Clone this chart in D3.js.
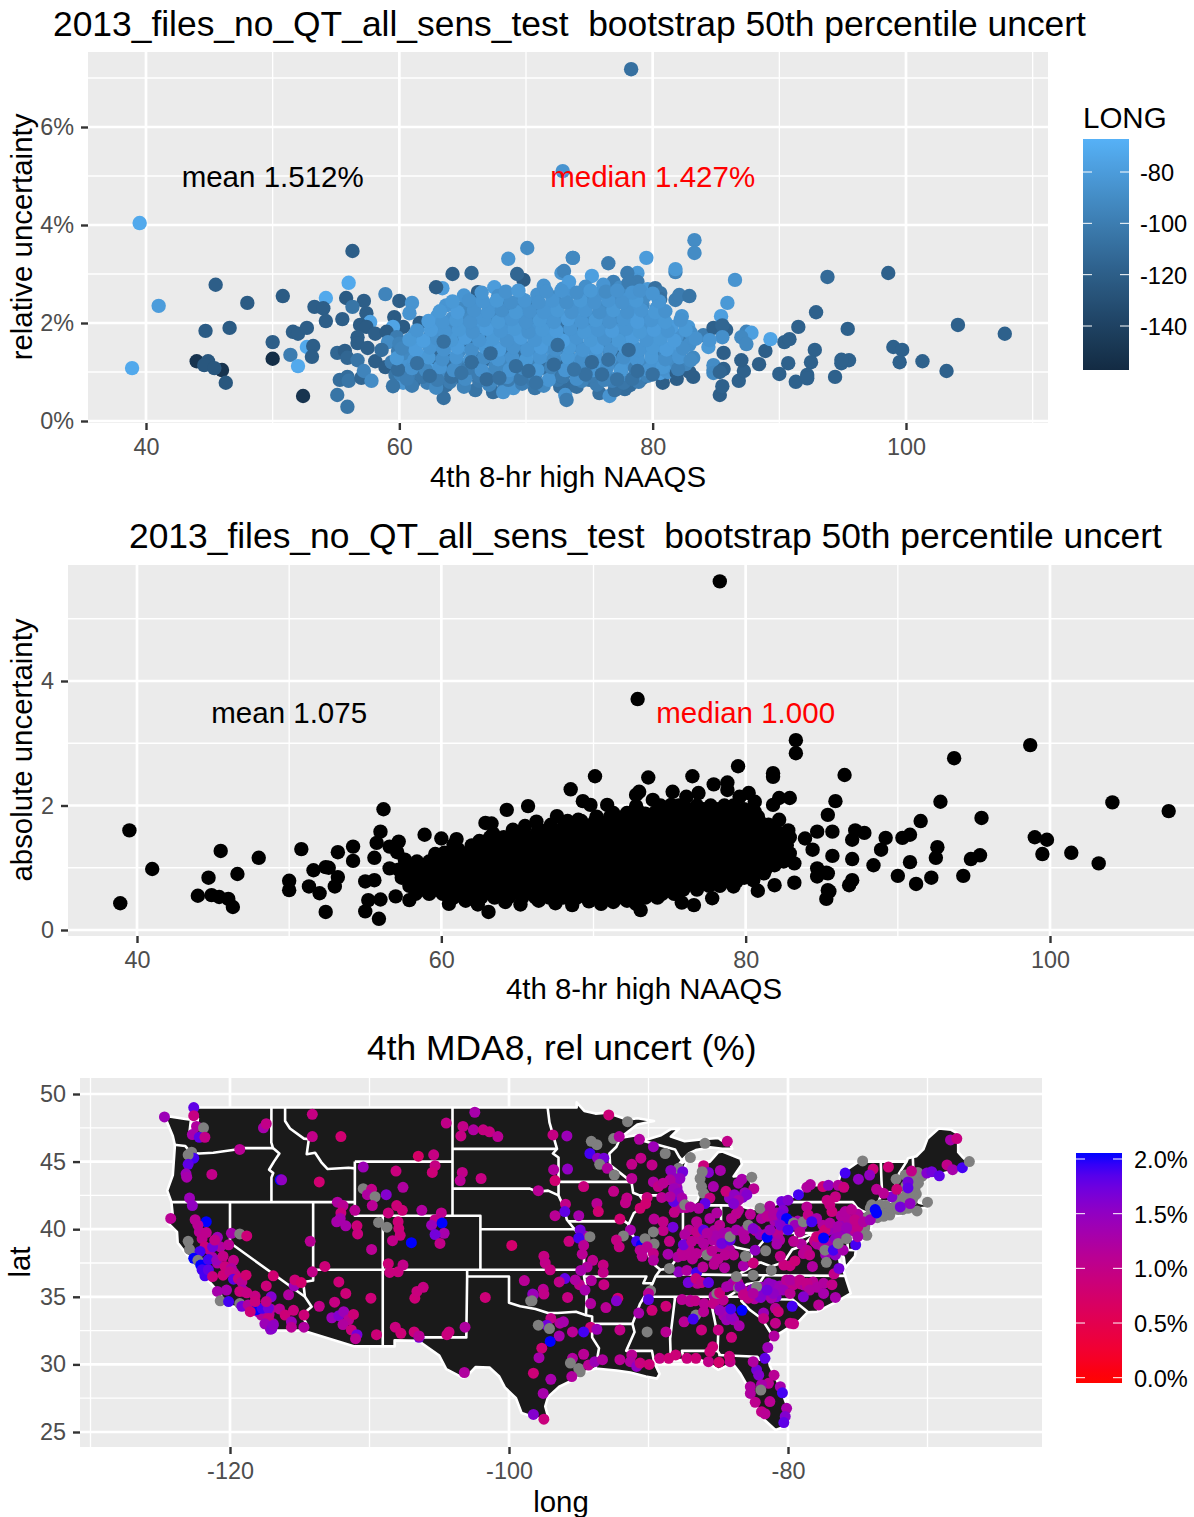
<!DOCTYPE html>
<html><head><meta charset="utf-8">
<script src="https://cdn.jsdelivr.net/npm/d3@7/dist/d3.min.js"></script>
<style>html,body{margin:0;padding:0;background:#fff}svg{display:block}text{font-family:"Liberation Sans",Arial,sans-serif;white-space:pre}</style>
</head><body><svg id="c" width="1194" height="1517"></svg>
<script>
const TITLE_A="2013_files_no_QT_all_sens_test  bootstrap 50th percentile uncert";
const TITLE_C="4th MDA8, rel uncert (%)";
const XLABEL="4th 8-hr high NAAQS";
// relative uncertainty: [NAAQS, rel %, longitude]
const relDark=[[38.9,1.08,-72],[39.5,4.04,-72],[41,2.35,-80],[45.5,2.78,-120],[44.7,1.84,-122],[46.6,1.9,-122],[48,2.41,-122],[50.8,2.55,-122],[50,1.61,-120],[50,1.27,-155],[51.4,1.35,-100],[52,1.12,-72],[52.4,.51,-150],[44,1.22,-150],[46,1.04,-150],[44.9,1.22,-125],[44.6,1.14,-125],[45.4,1.08,-125],[46.3,.78,-125],[54.2,2.51,-72],[53.3,2.33,-120],[54,2.3,-120],[54.2,2.04,-120],[51.6,1.82,-120],[52,1.78,-120],[52.7,1.9,-120],[52.7,1.51,-72],[53.2,1.53,-120],[53.1,1.31,-120],[55.8,2.51,-122],[56,2.82,-72],[56.3,3.47,-120],[57.2,2.45,-120],[55.5,2.08,-120],[56.3,2.33,-105],[57.4,2.2,-120],[57.7,2.02,-75],[56.9,1.96,-122],[57.4,1.92,-122],[56.7,1.71,-120],[56.7,1.59,-120],[58.1,1.78,-120],[55.1,1.39,-115],[55.7,1.43,-120],[55.9,1.29,-115],[57.5,1.49,-120],[56.7,1.24,-105],[58.1,1.22,-120],[55.3,.84,-110],[55.9,.9,-110],[56,.82,-105],[57,.88,-115],[57.2,1.02,-95],[57.8,.82,-90],[55.1,.53,-105],[55.9,.29,-105],[58.9,2.59,-95],[60,2.45,-120],[61,2.41,-85],[60.8,2.2,-85],[59.6,2.12,-122],[60.3,1.92,-122],[59.5,1.92,-75],[59,1.82,-122],[59.8,1.71,-100],[59.1,1.61,-90],[58.6,1.45,-110],[59.9,1.43,-100],[60.4,1.24,-120],[58.9,1.1,-120],[59.7,.94,-105],[60.3,.78,-85],[59.5,.71,-105],[61.1,.8,-115],[61.6,2,-122],[63.4,2.71,-80],[62.9,2.73,-120],[64.2,3,-120],[65.7,3.02,-115],[68.6,3.31,-85],[70.1,3.53,-90],[69.8,2.88,-122],[69.3,3,-115],[73.7,3.33,-90],[72.8,3.02,-85],[73,3.06,-95],[66.2,2.63,-120],[67.5,2.73,-80],[78.3,7.18,-108],[72.9,5.1,-85]];
const relEdge=[[63.5,.47,-108],[63.7,.73,-108],[64.5,.9,-110],[66,.63,-105],[67.4,.59,-110],[68.3,.7,-100],[68.2,.59,-85],[69,.67,-85],[70.7,.67,-105],[72.7,.7,-110],[73.7,.73,-110],[73.1,.53,-85],[73.2,.43,-100],[75.8,.57,-108],[76.6,.51,-85],[77.8,.65,-110],[77,.63,-108],[74,.7,-108],[75,.84,-105],[78.2,.73,-110],[79.2,.88,-115],[80.8,.78,-120],[81.9,.86,-120],[83.2,.9,-120],[85.3,.53,-120],[85.5,.71,-118],[86.8,.82,-118],[87.2,1.02,-118],[84.8,1.04,-95],[85.6,1.39,-120],[87,1.24,-120],[88.4,1.16,-120],[88.9,1.43,-120],[89.3,1.67,-75],[90.4,1.61,-118],[90.8,1.67,-118],[91.5,1.92,-118],[92.9,2.22,-118],[93.8,2.94,-112],[98.6,3.02,-118],[95.4,1.88,-118],[104.1,1.96,-118],[107.8,1.78,-118],[99,1.51,-118],[99.7,1.45,-118],[99.5,1.2,-118],[101.3,1.22,-118],[103.2,1.02,-118],[92.8,1.45,-118],[92.5,1.2,-118],[90.7,1.18,-118],[90,.96,-118],[91.3,.8,-118],[92.2,.94,-118],[92.2,.87,-118],[94.4,.9,-118],[94.9,1.18,-118],[95.5,1.24,-118],[94.9,1.25,-118],[83.3,3.69,-90],[83.3,3.43,-90],[86.5,2.88,-85],[85.9,2.41,-82],[85.4,2.14,-78],[79.5,3.33,-80],[76.5,3.22,-100],[73.7,3.33,-92],[81.8,3.04,-95],[81.8,3.1,-82],[78.8,3.02,-82],[78,3.02,-100],[75.2,2.96,-78],[76.9,2.84,-98],[78.8,2.84,-100],[79.6,2.69,-82],[80.2,2.71,-108],[80.6,2.61,-105],[80.6,2.49,-108],[81.8,2.47,-100],[82.1,2.57,-100],[82.9,2.55,-105],[82.3,2.14,-85],[82.8,1.92,-82],[84,1.75,-100],[84.8,1.9,-118],[85.8,1.86,-118],[85.5,1.95,-115],[87.4,1.82,-95],[87.8,1.8,-78],[87,1.71,-92],[87.4,1.57,-92],[85.5,1.71,-88],[84.4,1.51,-82],[84.5,1.65,-84],[82.5,1.71,-100],[83.2,1.29,-92],[82.1,1.24,-108],[81.2,1.18,-85],[80.6,.98,-80],[81.2,1,-85],[84.8,1.14,-90],[84.8,.98,-92],[85.6,1.06,-118],[82.1,1.39,-122],[80.6,1.31,-120],[82.9,1,-120],[81.9,.98,-120],[85.3,1,-115]];
const relBlob=[
[61,.72,-100],[62.2,.78,-98],[62.9,.68,-92],[64,.8,-100],[65.1,.7,-96],[66.3,.82,-102],[67.1,.74,-94],[68.6,.84,-100],[69.7,.76,-98],[70.6,.82,-103],[71.4,.72,-92],[72.5,.84,-102],[74.4,.82,-96],[75.6,.74,-100],[76.8,.82,-98],[77.7,.78,-104],[78.9,.8,-100],
[60.1,.96,-96],[61.3,1,-100],[62.2,.94,-84],[63.3,1.02,-90],[64.4,1.08,-92],[65.5,.98,-98],[66.6,1,-102],[67.5,.94,-88],[68.8,1.02,-96],[69.8,.96,-84],[70.9,1.04,-100],[72,.96,-90],[73.1,1,-104],[74.2,.96,-86],[75.3,1.06,-98],[76.3,.98,-92],[77.5,1.02,-100],[78.6,.94,-84],[79.8,1.04,-92],[80.8,1.06,-86],
[59.4,1.2,-100],[60.7,1.16,-84],[61.8,1.22,-90],[62.9,1.14,-78],[64,1.2,-88],[65,1.14,-94],[66.2,1.18,-104],[67.3,1.24,-84],[68.3,1.16,-92],[69.4,1.22,-82],[70.4,1.14,-96],[71.5,1.2,-86],[72.6,1.16,-92],[73.7,1.24,-84],[74.8,1.18,-100],[75.9,1.14,-80],[77,1.22,-94],[78.1,1.18,-84],[79.2,1.14,-92],[80.3,1.2,-84],[81.4,1.26,-90],[82.6,1.16,-94],
[60.3,1.38,-92],[61.5,1.34,-78],[62.5,1.4,-86],[63.6,1.36,-80],[64.7,1.42,-90],[65.8,1.34,-100],[66.9,1.4,-84],[68,1.36,-90],[69,1.42,-104],[70,1.34,-80],[71.1,1.4,-88],[72.2,1.36,-84],[73.3,1.42,-94],[74.4,1.34,-82],[75.5,1.4,-86],[76.6,1.36,-90],[77.7,1.42,-80],[78.8,1.36,-88],[79.9,1.4,-84],[81,1.34,-92],[82,1.42,-84],
[60,1.58,-96],[61,1.54,-84],[62.2,1.6,-80],[63.2,1.52,-88],[64.3,1.58,-84],[65.4,1.54,-78],[66.4,1.6,-86],[67.5,1.52,-92],[68.6,1.6,-82],[69.7,1.54,-88],[70.8,1.58,-80],[71.9,1.52,-86],[73,1.6,-84],[74.1,1.54,-88],[75.2,1.6,-82],[76.3,1.54,-90],[77.4,1.6,-84],[78.5,1.52,-80],[79.6,1.58,-88],[80.7,1.54,-84],[81.8,1.6,-80],[82.9,1.56,-88],
[61.2,1.76,-86],[62.4,1.72,-92],[63.4,1.78,-84],[64.5,1.74,-80],[65.6,1.8,-90],[66.7,1.72,-84],[67.7,1.78,-88],[68.8,1.74,-80],[69.9,1.8,-86],[71,1.72,-84],[72.1,1.78,-78],[73.2,1.74,-86],[74.3,1.8,-82],[75.4,1.72,-90],[76.5,1.78,-84],[77.6,1.74,-86],[78.7,1.8,-80],[79.8,1.72,-88],[80.9,1.78,-82],[81.9,1.74,-86],[83,1.8,-88],
[62.8,1.94,-84],[63.9,1.9,-90],[65,1.96,-86],[66.1,1.9,-82],[67.2,1.96,-88],[68.3,1.92,-84],[69.4,1.98,-86],[70.5,1.9,-84],[71.6,1.96,-88],[72.7,1.92,-82],[73.8,1.98,-86],[74.9,1.9,-84],[76,1.96,-90],[77.1,1.92,-84],[78.2,1.98,-82],[79.3,1.9,-86],[80.4,1.96,-84],[81.5,1.92,-80],
[63,2.14,-82],[64.2,2.1,-86],[65.3,2.16,-90],[66.4,2.12,-84],[67.5,2.18,-92],[68.6,2.1,-86],[69.7,2.16,-84],[70.8,2.12,-90],[71.9,2.18,-84],[73,2.1,-86],[74.1,2.16,-82],[75.2,2.1,-92],[76.3,2.16,-86],[77.4,2.12,-90],[78.5,2.18,-80],[79.6,2.12,-86],[80.7,2.16,-82],
[63.7,2.36,-84],[64.9,2.3,-92],[66,2.38,-88],[67.1,2.3,-84],[68.2,2.36,-90],[69.3,2.32,-86],[70.4,2.38,-92],[71.5,2.3,-84],[72.6,2.38,-88],[73.7,2.32,-86],[74.8,2.36,-82],[75.9,2.3,-90],[77,2.38,-88],[78.1,2.32,-84],[79.2,2.36,-92],[80.3,2.3,-84],
[65.1,2.56,-84],[67.8,2.55,-88],[69.6,2.5,-90],[70.9,2.58,-86],[72.2,2.52,-92],[73.3,2.6,-84],[74.5,2.52,-90],[75.6,2.58,-86],[76.8,2.5,-92],[77.9,2.58,-84],[79.3,2.52,-90],
[71.4,2.76,-86],[72.9,2.7,-84],[73.4,2.84,-80],[74.7,2.74,-88],[76.1,2.78,-84],[77.4,2.72,-90],[78.1,2.82,-100]];
const relDarkTop=[[65,1.65,-108],[65.8,1.55,-110],[66.5,1.65,-112],[66,1.12,-112],[66.6,1.24,-112],[68.7,1.5,-112],[69.4,1.33,-108],[68.6,.98,-100],[74.3,1.92,-108],[70.6,2.33,-105],[68.5,2.33,-115],[73.1,1.92,-108],[73.2,1.24,-115],[76.4,1.59,-115],[76.9,1.41,-115],[63,1.28,-112],[64,1.22,-108],[71.2,1.08,-108],[72.8,.9,-105]];
const relBlob2=[
[60.6,.86,-98],[61.8,.9,-104],[63,.84,-100],[64.1,.9,-108],[65.2,.86,-90],[66.3,.92,-100],[67.4,.84,-92],[68.5,.9,-88],[69.6,.86,-104],[70.7,.92,-96],[71.8,.84,-84],[72.9,.9,-102],[74,.86,-88],[75.1,.92,-100],[76.2,.84,-96],[77.3,.9,-88],[78.4,.86,-106],[79.6,.92,-96],
[59.9,1.05,-110],[61,1.08,-86],[62.1,1.04,-92],[63.2,1.1,-84],[64.3,1.04,-88],[65.4,1.08,-100],[66.5,1.04,-86],[67.6,1.1,-92],[68.7,1.04,-84],[69.8,1.08,-90],[70.9,1.04,-82],[72,1.1,-96],[73.1,1.04,-84],[74.2,1.08,-90],[75.3,1.04,-84],[76.4,1.1,-88],[77.5,1.04,-82],[78.6,1.08,-100],[79.7,1.04,-84],[80.8,1.1,-82],[82,1.06,-98],
[59.8,1.28,-82],[61.2,1.25,-84],[62.3,1.3,-82],[63.4,1.26,-88],[64.5,1.3,-84],[65.6,1.25,-82],[66.7,1.3,-90],[67.8,1.26,-84],[68.9,1.3,-86],[70,1.25,-82],[71.1,1.3,-84],[72.2,1.26,-90],[73.3,1.3,-82],[74.4,1.25,-88],[75.5,1.3,-84],[76.6,1.26,-82],[77.7,1.3,-88],[78.8,1.25,-84],[79.9,1.3,-82],[81,1.26,-88],[82.1,1.3,-84],[83,1.24,-90],
[60.2,1.48,-94],[61.3,1.45,-80],[62.4,1.5,-84],[63.5,1.46,-86],[64.6,1.5,-80],[65.7,1.45,-88],[66.8,1.5,-82],[67.9,1.46,-80],[69,1.5,-86],[70.1,1.45,-84],[71.2,1.5,-80],[72.3,1.46,-88],[73.4,1.5,-82],[74.5,1.45,-84],[75.6,1.5,-80],[76.7,1.46,-86],[77.8,1.5,-82],[78.9,1.45,-84],[80,1.5,-82],[81.1,1.46,-80],[82.4,1.48,-88],
[60.8,1.66,-82],[61.9,1.64,-78],[63,1.68,-86],[64.1,1.65,-82],[65.2,1.7,-80],[66.3,1.65,-84],[67.4,1.68,-82],[68.5,1.64,-86],[69.6,1.7,-80],[70.7,1.65,-84],[71.8,1.68,-82],[72.9,1.64,-78],[74,1.7,-84],[75.1,1.65,-82],[76.2,1.68,-86],[77.3,1.64,-82],[78.4,1.7,-80],[79.5,1.65,-84],[80.6,1.68,-82],[81.7,1.64,-80],[83.4,1.68,-86],
[61.4,1.85,-84],[62.5,1.86,-80],[63.6,1.82,-84],[64.7,1.86,-82],[65.8,1.82,-86],[66.9,1.88,-80],[68,1.84,-84],[69.1,1.88,-82],[70.2,1.82,-86],[71.3,1.86,-82],[72.4,1.84,-80],[73.5,1.88,-84],[74.6,1.82,-82],[75.7,1.86,-84],[76.8,1.84,-80],[77.9,1.88,-84],[79,1.82,-82],[80.1,1.86,-80],[81.2,1.84,-84],[82.6,1.86,-82],
[62.3,2.04,-80],[63.4,2.02,-84],[64.5,2.06,-82],[65.6,2.02,-86],[66.7,2.06,-84],[67.8,2.02,-82],[68.9,2.08,-84],[70,2.02,-86],[71.1,2.06,-82],[72.2,2.02,-84],[73.3,2.08,-80],[74.4,2.02,-84],[75.5,2.06,-82],[76.6,2.02,-86],[77.7,2.08,-84],[78.8,2.02,-80],[79.9,2.06,-84],[81,2.02,-82],[82.2,2.06,-86],
[63.2,2.24,-82],[64.6,2.22,-80],[65.9,2.26,-86],[67,2.22,-84],[68.1,2.26,-88],[69.2,2.22,-82],[70.3,2.24,-86],[71.4,2.22,-84],[72.5,2.26,-82],[73.6,2.22,-86],[74.7,2.26,-84],[75.8,2.22,-88],[76.9,2.26,-82],[78,2.22,-86],[79.1,2.26,-84],[80.2,2.22,-82],[81,2.24,-86],
[64.2,2.44,-82],[65.5,2.46,-86],[66.6,2.44,-84],[67.7,2.46,-82],[68.8,2.42,-88],[69.9,2.46,-84],[71,2.42,-86],[72.1,2.46,-84],[73.2,2.42,-88],[74.3,2.46,-82],[75.4,2.42,-86],[76.5,2.46,-84],[77.6,2.42,-86],[78.7,2.46,-82],[80.5,2.44,-84],
[66.5,2.62,-84],[68.4,2.64,-86],[69.4,2.66,-82],[71.6,2.64,-86],[72.8,2.66,-84],[74,2.62,-88],[75.1,2.66,-82],[76.3,2.64,-90],[77.2,2.66,-86],[78.4,2.62,-84],[79,2.66,-86],[80,2.6,-84]];
const relDarkTop2=[[61.4,1.18,-108],[70.2,1.02,-110],[67.2,1.38,-112],[72.5,1.55,-110],[75.2,1.2,-112],[78.1,1.45,-112],[74.7,.95,-108],[66.9,.85,-112],[63.5,1.62,-108],[62.4,.92,-110],[64.9,.98,-106],[65.7,1.2,-110],[67.9,.88,-108],[69.2,1.12,-110],[70.8,.78,-106],[72.2,1.15,-112],[73.8,1.05,-106],[76,.95,-110],[77.2,.85,-106],[78.8,1.02,-110],[80,.95,-108],[76.5,1.25,-108]];
// absolute uncertainty: [NAAQS, abs]
const absEdge=[[78.3,5.6],[72.9,3.71],[83.3,3.05],[83.3,2.84],[98.7,2.97],[93.7,2.76],[104.1,2.05],[107.8,1.91],[39.5,1.6],[41,.98],[38.9,.43],[44,.55],[45.5,1.27],[46.6,.9],[48,1.16],[44.7,.84],[44.9,.56],[45.4,.53],[46,.5],[46.3,.37],[50,.79],[50,.64],[50.8,1.3],[52.4,.29],[51.6,.96],[52.4,1.01],[99,1.49],[99.8,1.45],[99.5,1.22],[101.4,1.24],[103.2,1.07],[95.5,1.8],[95.4,1.2],[94.8,1.14],[94.3,.87],[92.8,2.06],[92.6,1.33],[92.5,1.16],[92.2,.84],[91.5,1.75],[91.2,.74],[90,.87],[90.8,1.09],[90.8,1.53],[90.3,1.48],[88.9,1.29],[89.2,1.48],[88.4,1.04],[87,1.14],[87,.8],[86.8,.72],[87.8,1.56],[87.2,1.6],[87,1.45],[85.3,.5],[85.4,.64],[85.3,.92],[86.5,2.49],[85.9,2.07],[85.4,1.85],[56.2,1.94],[56,1.58],[55.75,1.4],[57.2,1.42],[58.9,1.53],[60,1.47],[61,1.46],[60.8,1.37],[62.9,1.72],[63.3,1.71],[63.4,1.55],[64.3,1.93],[65.7,1.99],[64.7,1.61],[65.5,1.67],[66.25,1.74],[67.6,1.83],[68.5,2.26],[70.1,2.47],[69.3,2.07],[69.8,2.01],[70.9,2.01],[69,1.77],[71.7,1.79],[72.4,1.74],[73,2.22],[72.8,2.17],[72.8,1.99],[73.6,2.45],[73.9,2.09],[73.4,1.87],[75.2,2.22],[75.1,2.01],[76.1,2.14],[76.5,2.47],[76.9,2.2],[77.9,2.34],[78.8,2.37],[78.8,2.25],[79.5,2.63],[80.2,2.2],[79.6,2.14],[80.6,2.06],[80.6,1.9],[81.8,2.46],[81.8,2.52],[82.2,2.12],[82.9,2.12],[81.8,2.01],[85.7,1.58],[84.7,1.58],[83.9,1.47],[84.4,1.29],[85.7,1.19],[84.7,.99],[85.4,.91],[84.7,.86],[85.5,.62],[83.2,1.07],[83.2,.76],[81.9,.72],[80.8,.63],[80.5,.8],[79.2,.7],[82.2,1.77],[82.8,1.6],[82.4,1.39],[77.8,.51],[76.6,.4],[75.8,.44],[73.1,.32],[72.8,.42],[63.1,.29],[55.9,.18],[55,.3],[55.2,.48],[56,.49],[57,.54],[57.9,.48],[55,.78],[55.6,.8],[55.6,1.16],[56.6,.99],[56.6,1.34],[54.2,1.34],[53.2,1.25],[54.2,1.11],[52.6,1],[53.2,.85],[53,.7],[51.3,.7],[52,.59],[57.1,1.25],[57.6,1.13],[58.4,.95],[59.2,1.1],[59.6,1.22],[60.2,1.24],[60.5,.42],[61.6,.47],[62.4,.41],[64.2,.45],[65.2,.41],[66.4,.47],[67.5,.43],[68.6,.4],[69.7,.46],[70.5,.42],[71.3,.45],[72.2,.47]];
const absRows=[
[.58,[58.3,59.2,60.1,61,61.9,62.8,63.7,64.6,65.5,66.4,67.3,68.2,69.1,70,70.9,71.8,72.7,73.6,74.5,75.3]],
[.71,[57.9,58.7,59.6,60.5,61.4,62.3,63.2,64.1,65,65.9,66.8,67.7,68.6,69.5,70.4,71.3,72.2,73.1,74,74.9,75.8,76.7,77.6,78.3]],
[.84,[57.4,58.3,59.2,60.1,61,61.9,62.8,63.7,64.6,65.5,66.4,67.3,68.2,69.1,70,70.9,71.8,72.7,73.6,74.5,75.4,76.3,77.2,78.1,79,79.9]],
[.97,[57.2,58,58.9,59.8,60.7,61.6,62.5,63.4,64.3,65.2,66.1,67,67.9,68.8,69.7,70.6,71.5,72.4,73.3,74.2,75.1,76,76.9,77.8,78.7,79.6,80.5,81.3]],
[1.1,[58.4,59.3,60.2,61.1,62,62.9,63.8,64.7,65.6,66.5,67.4,68.3,69.2,70.1,71,71.9,72.8,73.7,74.6,75.5,76.4,77.3,78.2,79.1,80,80.9,81.8,82.5]],
[1.23,[60.6,61.5,62.4,63.3,64.2,65.1,66,66.9,67.8,68.7,69.6,70.5,71.4,72.3,73.2,74.1,75,75.9,76.8,77.7,78.6,79.5,80.4,81.3,82.2,82.9]],
[1.36,[62,62.9,63.8,64.7,65.6,66.5,67.4,68.3,69.2,70.1,71,71.9,72.8,73.7,74.6,75.5,76.4,77.3,78.2,79.1,80,80.9,81.8,82.7]],
[1.49,[63.2,64.1,65,65.9,66.8,67.7,68.6,69.5,70.4,71.3,72.2,73.1,74,74.9,75.8,76.7,77.6,78.5,79.4,80.3,81.2,82.1,82.9]],
[1.62,[66.4,67.3,68.2,69.1,70,70.9,71.8,72.7,73.6,74.5,75.4,76.3,77.2,78.1,79,79.9,80.8,81.7]],
[1.75,[68.3,69.2,70.1,71,71.9,72.8,73.7,74.6,75.5,76.4,77.3,78.2,79.1,80,80.9]],
[1.88,[71.3,72.2,73.1,74,74.9,75.8,76.7,77.6,78.5,79.4,80.2]],
[2.0,[74.4,75.6,76.8,77.7,78.6,79.2]],
[.52,[60.8,61.7,62.6,63.5,64.4,65.3,66.2,67.1,68,68.9,69.8,70.7,71.6,72.5,73.4,74.2]],
[.65,[58.8,59.7,60.6,61.5,62.4,63.3,64.2,65.1,66,66.9,67.8,68.7,69.6,70.5,71.4,72.3,73.2,74.1,75,75.9,76.8]],
[.78,[58.8,59.7,60.6,61.5,62.4,63.3,64.2,65.1,66,66.9,67.8,68.7,69.6,70.5,71.4,72.3,73.2,74.1,75,75.9,76.8,77.7,78.6,79.4]],
[.91,[57.9,58.8,59.7,60.6,61.5,62.4,63.3,64.2,65.1,66,66.9,67.8,68.7,69.6,70.5,71.4,72.3,73.2,74.1,75,75.9,76.8,77.7,78.6,79.5,80.4,81.2]],
[1.04,[58.5,59.4,60.3,61.2,62.1,63,63.9,64.8,65.7,66.6,67.5,68.4,69.3,70.2,71.1,72,72.9,73.8,74.7,75.6,76.5,77.4,78.3,79.2,80.1,81,81.9]],
[1.17,[59.8,60.7,61.6,62.5,63.4,64.3,65.2,66.1,67,67.9,68.8,69.7,70.6,71.5,72.4,73.3,74.2,75.1,76,76.9,77.8,78.7,79.6,80.5,81.4,82.3]],
[1.3,[61.1,62,62.9,63.8,64.7,65.6,66.5,67.4,68.3,69.2,70.1,71,71.9,72.8,73.7,74.6,75.5,76.4,77.3,78.2,79.1,80,80.9,81.8,82.6]],
[1.43,[62.5,63.4,64.3,65.2,66.1,67,67.9,68.8,69.7,70.6,71.5,72.4,73.3,74.2,75.1,76,76.9,77.8,78.7,79.6,80.5,81.4,82.3]],
[1.56,[65.4,66.3,67.2,68.1,69,69.9,70.8,71.7,72.6,73.5,74.4,75.3,76.2,77.1,78,78.9,79.8,80.7,81.6,82.2]],
[1.69,[67.2,68.1,69,69.9,70.8,71.7,72.6,73.5,74.4,75.3,76.2,77.1,78,78.9,79.8,80.7,81.5]],
[1.82,[70.2,71.1,72,72.9,73.8,74.7,75.6,76.5,77.4,78.3,79.2,80.1,80.8]],
[1.94,[74.3,75.3,76.2,77.2,78.1,79,79.9]]];
// map stations: [long, lat, rel uncert %] (null = missing)
const stationsGreyExtra=[[-73.9,41.1,null],[-73.5,41.35,null],[-73.2,41.45,null],[-72.9,41.5,null],[-72.6,41.35,null],[-73,41.75,null],[-72.4,41.6,null],[-73.6,40.85,null],[-74.3,40.9,null],[-74.5,40.2,null],[-74.7,39.9,null],[-71.05,43.2,null],[-70.9,43,null],[-71.3,42.8,null],[-70.8,42.6,null],[-71.1,42.1,null],[-71.5,42.6,null],[-70.85,43.6,null],[-70.4,43.9,null],[-70.7,44.2,null],[-72.2,41.9,null],[-71.8,41.45,null],[-72.7,41.05,null],[-74,41.8,null],[-73.1,41.15,null],[-71.2,42.75,null],[-71,43.7,null],[-71.55,43.2,null]];
const stationsExtra=[[-77.5,40.3,1.2],[-76.9,40.1,1.3],[-76.1,40.45,1.4],[-75.6,40.4,1.2],[-75.35,40.1,1.2],[-76.6,39.95,1.3],[-77.15,39.9,1.4],[-75.95,39.85,1.6],[-75.5,39.9,1.3],[-75.2,39.95,1.1],[-75,40.7,1.1],[-76.2,41,1.2],[-75.7,40.75,1.2],[-75,41.1,1.2],[-77.1,38.9,1.5],[-76.9,39,1.3],[-76.6,39.3,1.5],[-76.3,39.45,1.4],[-76.8,38.6,1.4],[-77.6,38.8,1.2],[-78.1,39.15,.9],[-77.55,39.6,1],[-78.05,39.05,1],[-77.9,38.9,1.2],[-77.3,38.1,1.4],[-76.6,38.1,1.5],[-78.9,38.2,1.1],[-79.05,38.9,1.2],[-80.95,40.6,1.3],[-80.7,40.8,1.5],[-80.3,40.45,1.6],[-80.05,40.6,1.4],[-79.75,40.55,1.5],[-79.3,40.6,1.3],[-79,40.3,1.4],[-80.8,41.2,1.3],[-81.7,41.3,1.2],[-81.45,41.1,1.3],[-81.9,40.8,1.2],[-82.7,41.1,1.1],[-82.3,39.9,1.1],[-83,40,1.3],[-83.1,39.3,1.2],[-83.7,41.15,1],[-82,39.6,1.5],[-81.6,39.6,1.3],[-81.1,39.5,1.4],[-80.7,39.7,1.1],[-80.6,39.2,1.2],[-85.75,38.25,1.1],[-85.6,38.05,1.2],[-85.9,38.35,1.1],[-86.4,39.3,1.1],[-86.2,39.75,1.3],[-86.4,40.1,1.1],[-85.3,39.9,1.2],[-85.4,39.2,1.2],[-84.5,39.3,1.3],[-84.3,39.75,1.2],[-84.9,40.3,1.1],[-85.2,39.5,1.3],[-87.1,39.95,1.1],[-87.1,38.55,1.1],[-87.9,37.95,1.2],[-87.6,38.3,1.1],[-86.85,37.8,1.1],[-84.2,38.5,1.2],[-84.9,38.7,1.2],[-83.9,38.1,1.1],[-85.3,37.4,1.1],[-88,41.8,1.3],[-87.85,41.95,1.4],[-87.75,42.15,1.5],[-87.95,43.05,1.5],[-88,43.4,1.3],[-88.1,42.85,1.4],[-87.9,44,1.5],[-87.65,41.6,1.2],[-87.3,41.6,1.1],[-84.2,42.3,1.5],[-83.25,42.35,1.6],[-83.1,42.7,1.4],[-84.1,35.85,1.2],[-83.95,36,1.3],[-83.6,36.05,1.1],[-83.3,35.5,1.3],[-82.95,35.35,1.1],[-82.55,35.55,1.5],[-82.3,35.4,1.6],[-81.9,35.7,1.4],[-81.7,35.3,1.6],[-81.3,35.75,1.5],[-81.1,35.9,1.5],[-80.85,35.3,1.3],[-80.6,35.8,1.4],[-80.25,35.9,1.3],[-80,36,1.1],[-79.6,35.9,1],[-79.4,36.1,1.1],[-79.1,35.95,1],[-78.8,35.85,1.2],[-78.6,35.8,1],[-78.2,36.1,1.1],[-77.9,35.7,1.2],[-80.85,35,1.6],[-81.2,34.9,1.3],[-81.95,34.95,1.5],[-82.4,34.85,1.2],[-84.4,33.75,1.4],[-84.3,33.95,1.3],[-84.6,33.6,1.3],[-83.9,33.3,1.4],[-85.2,34.7,1.3],[-85.3,35.05,1.2],[-86.75,36.15,1],[-86.5,36,1.1],[-87,34.75,1.1],[-119.75,36.8,1.1],[-119,35.4,1],[-120.9,37.5,1.2],[-121.3,37.95,1.3],[-121.5,38.5,1.2],[-121,38.9,1.3],[-120.7,38.7,1.2],[-120.2,37,1.1],[-119.6,36.6,1],[-118.2,34.1,1.7],[-118,33.9,1.5],[-117.5,34.05,1.3],[-117.1,34.1,1.2],[-117.2,33.7,1.1],[-116.9,33,1.4],[-117.15,32.85,1.6],[-117.1,32.6,1.5],[-117.75,33.65,1.2],[-118.4,34.2,1.2],[-90.3,38.6,1.4],[-90.4,38.75,1.3],[-89.9,38.85,1.1],[-84.4,39.1,1.4]];
const stations=[[-124.7,48.3,1.4],[-122.6,49,1.8],[-122.6,48.4,.95],[-122.4,47.6,1.2],[-121.9,47.5,null],[-122.7,47,1.3],[-122.2,46.8,1.8],[-121.8,46.8,1],[-117.6,47.5,1.3],[-117.4,47.8,1],[-119.3,45.9,1.1],[-122.75,45.7,null],[-122.6,45.25,1.9],[-123,45.5,null],[-123,44.8,1.8],[-123.15,44.1,1.4],[-123.1,43.85,1.3],[-121.3,44.05,1],[-122.9,42.3,1.4],[-122.7,41.75,1.5],[-124.25,40.8,1.1],[-121.7,40.55,2],[-122.5,40.7,1.1],[-122.3,40.3,1.1],[-122.2,39.8,1.1],[-121.7,39.75,1.05],[-120.9,39.4,1.4],[-122,39.3,1.05],[-121.8,38.7,.9],[-121.25,38.7,1.7],[-121.1,39.2,1],[-123,39.1,null],[-122.9,38.5,null],[-122.5,38.1,null],[-122.15,38.35,1.9],[-122.6,37.85,2],[-122.3,37.7,null],[-122.1,37.35,2],[-122,37,1.9],[-121.8,36.55,1.9],[-121.55,37,1.8],[-121.55,37.75,1.9],[-120.95,37.7,1.4],[-120.5,38,1],[-119.75,37.7,1],[-120.35,37.25,.9],[-119.9,37.1,1.2],[-121.25,36.5,.9],[-120.5,36.6,.85],[-120,36.85,1],[-119.75,36.3,1.8],[-119.4,36.35,.9],[-119.15,36.1,1.1],[-118.85,36.6,.8],[-119.9,39.7,1.3],[-119.3,39.65,null],[-118.8,39.5,.85],[-120.1,38.85,1.1],[-116.9,36.55,.8],[-117.4,35.8,.85],[-119.1,35.5,1.3],[-120.9,35.4,1.3],[-120.25,35.5,1.3],[-119.3,35.4,.9],[-118.8,35.3,.95],[-118.2,35.05,.95],[-117.05,35,1.6],[-115.8,35.15,1.2],[-115.4,35.8,1.4],[-115.35,36.25,.85],[-114.9,36.05,.75],[-120.7,34.7,null],[-120.1,34.65,1.9],[-119.3,34.5,null],[-119.15,34.3,1.7],[-118.7,34.4,1.2],[-118.1,34.05,2],[-117.7,34.15,1.9],[-117.25,34.15,1.7],[-118.2,34.65,.9],[-117.4,34.65,1],[-116.45,34.1,1.1],[-116.05,33.65,.85],[-115.45,34,.9],[-115.6,33.15,1.4],[-115.6,32.75,1.1],[-114.7,33.65,.85],[-114.7,32.75,1.2],[-117.25,33.4,.95],[-117.5,33,1.4],[-117,32.65,1.6],[-116.9,32.9,1.5],[-118.55,33.9,.85],[-114.25,39.1,1.1],[-113.6,43.5,.8],[-116.4,43.65,2],[-116.3,43.65,1.5],[-114.1,48.5,.95],[-114.1,46.85,1],[-112.05,46.85,.8],[-106.5,45.4,.7],[-105.4,45.5,.95],[-105.3,44.7,.95],[-105.5,44.2,.85],[-104.5,47.85,1],[-108.1,44.3,.9],[-110.45,44.6,1.4],[-110.45,43,null],[-109.85,42.95,1],[-110.15,42.55,1.2],[-109.6,42.4,null],[-108.8,42.55,1.6],[-107.6,43.1,1.2],[-109.8,41.75,1.1],[-112.3,42,1.2],[-111.9,41.75,1.1],[-112.05,41.2,.9],[-112.35,40.55,1.3],[-111.7,40.25,1.3],[-112.1,40.8,1.3],[-111.05,41.4,1.1],[-110.9,40.25,.85],[-110.85,39.65,.9],[-109.35,40.5,null],[-108.75,40.15,null],[-108.65,41.2,.9],[-108.05,41.75,.85],[-107.65,41.4,.85],[-106.25,41.4,1.2],[-104.85,41.2,1.05],[-105.3,40.7,1],[-105.55,40.3,1.4],[-104.8,40.45,2],[-104.65,39.7,1.3],[-105.3,39.6,1.7],[-104.95,38.95,1],[-107.95,40.55,.85],[-107.9,40.05,.85],[-107.8,39.55,.9],[-108.35,39.15,1],[-107,39,2],[-109.85,38.5,1.1],[-113.2,37.25,.85],[-114.1,36.85,1],[-112.2,36.1,.85],[-111.7,35.25,.85],[-112.5,34.6,.95],[-113.6,34.3,1],[-109.9,34.9,.85],[-112.7,33.45,1.4],[-112.2,33.6,1.6],[-111.85,33.9,1.4],[-111.5,33.3,1.1],[-111.15,33.7,.85],[-111.9,32.95,1.2],[-111.3,32.55,.9],[-110.9,32.2,1.7],[-111,31.9,1.1],[-109.5,32.2,.85],[-108.65,37.45,.85],[-108.55,36.8,.9],[-107.95,36.85,.9],[-107.6,37.35,1],[-106.75,34.9,.85],[-106.6,35.4,.9],[-106.15,35.7,.95],[-108.15,32.75,.9],[-107.75,32.3,.85],[-106.8,32.4,.85],[-106.45,32,1.7],[-106.45,32.1,1.1],[-104.45,32.2,.9],[-104.3,32.4,.9],[-103.15,32.75,1.2],[-101.7,34.95,.85],[-103.2,29.4,1.2],[-98.9,36.2,1.1],[-98.3,35.2,1.6],[-98.45,34.7,null],[-99.8,38.8,.75],[-103.35,44.2,1],[-103.5,43.6,1.1],[-102,43.75,.95],[-103.3,47.6,1],[-103.45,46.9,.95],[-102.55,47.35,1.2],[-102.45,48.65,1.3],[-101.85,47.35,.95],[-101.4,47.2,.95],[-100.8,46.85,1.1],[-97.9,42.85,1.1],
[-96.85,46.97,.95],[-95.85,46.9,1.4],[-92.85,48.45,.85],[-91.5,47.95,null],[-94.1,46.5,null],[-93.7,46.25,null],[-92.5,46.7,null],[-92.1,46.85,1.2],[-90.65,46.65,1.2],[-89.65,46.1,1.4],[-88.8,45.6,null],[-94.2,45.6,1.9],[-93.65,45.25,1.5],[-93.2,45.25,1.7],[-93.5,44.8,null],[-92.95,44.5,1.2],[-92.45,44,null],[-91.2,44.8,1],[-90.55,45.25,1],[-89.75,44.75,1],[-91.2,43.75,1.1],[-96.8,44.4,1.2],[-95.8,44.45,1.5],[-96.7,43.6,.8],[-94.65,43.15,.9],[-92.5,42.8,1],[-93.7,41.9,1.1],[-93.6,41.3,.8],[-91.55,42.3,1],[-91.65,41.95,1],[-95.95,41.85,1],[-96,41.3,1.8],[-96.7,41,1.1],[-95,41,1.3],[-92.05,40.75,.8],[-90.1,42.35,.9],[-90.2,41.9,.8],[-90.6,41.55,.8],[-89.6,40.75,1.1],[-88.95,40.55,1],[-88.15,41.25,1],[-88.25,40.15,1.7],[-88.95,39.9,1],[-89.65,39.8,null],[-91.3,39.95,1.3],[-91.8,39.5,null],[-89.6,38.9,null],[-90.85,39.1,1.9],[-90.5,38.85,2],[-90.25,39.3,null],[-90.1,38.7,1.1],[-90.6,38.45,1.1],[-89.65,38.2,1],[-90.45,38,1.1],[-89.65,37.7,1.2],[-88.5,39.1,1],[-88.6,38.15,1.3],[-92.3,39.2,.95],[-92.1,38.7,.95],[-95.7,39.1,.9],[-94.55,39.5,1.3],[-94.9,39.95,1.7],[-94.2,39.45,null],[-95,39.35,1.9],[-94.65,38.8,1.1],[-94.75,38.15,1.1],[-97.5,38,.95],[-97.4,37.5,1],[-97.05,37,.95],[-94,37.7,1.05],[-94.4,37.2,1.2],[-94.85,36.95,1.3],[-93.25,37.35,.95],[-93.25,36.8,1],[-93.2,35.9,.95],[-94.1,36.2,1.2],[-94.95,35.9,1.05],[-95.25,36.25,1.2],[-96,36.35,1.8],[-96.4,36.1,1],[-94.55,35.5,1.3],[-97.55,35.55,1.1],[-97.5,35.2,1],[-98.25,35.15,1.4],[-98.35,34.7,null],[-95.8,34.95,.95],[-92.2,34.9,.75],[-92.3,34.7,1.6],[-94.15,34.5,1.2],[-93.05,34.2,1.1],[-89.85,35.45,null],[-90,35.25,1.1],[-90,34.8,1.8],[-89.75,34,.85],[-88.75,34.3,.85],[-90.7,33.8,1.3],[-90.1,32.4,null],[-88.75,32.4,1.1],[-92.05,32.55,1],[-94.15,32.75,.85],[-93.7,32.6,1.4],[-94.65,32.4,1.9],[-95.45,32.4,1.1],[-96.4,32.1,1.3],[-96.35,33.05,1.2],[-96.1,33.15,1.3],[-97,33.4,1],[-97.3,32.9,1.7],[-97.9,32.9,null],[-97.1,32.65,null],[-97.05,31.7,2],[-97.65,31.2,.85],[-97.85,30.5,1.3],[-94.65,30.75,1.1],[-95.45,30.45,1.2],[-95.6,30.1,null],[-94.9,29.45,null],[-95,29.7,null],[-95.5,29.1,1.2],[-97,28.9,1.3],[-98.25,29.35,.85],[-97.55,27.85,1.3],[-98.25,26.3,1.6],[-97.5,25.95,.9],[-94.3,29.95,1.1],[-93.85,30.2,1.4],[-93.3,30.35,1.2],[-92.05,30.35,1.1],[-91.2,30.7,1.1],[-91.3,30.2,1.2],[-90.85,29.85,1.5],[-90.6,30.1,.9],[-89.95,30,.85],[-89.2,30.45,.95],[-88.55,30.45,.85],[-88.05,30.7,.85],[-87.25,30.45,.9],[-86.6,30.45,.85],[-85.7,30.2,1],[-84.95,30.15,.75],[-84.15,30.2,1],[-84.2,30.6,.9],[-85.6,30.95,.85],[-85.4,31.3,.85],
[-87.45,33.15,1.1],[-86.6,33.65,null],[-86.8,33.35,1.9],[-86.2,32.55,.9],[-85,32.55,.95],[-84.05,32,.9],[-83.5,32.85,1.3],[-87.6,34.8,1.1],[-87,34.65,1.1],[-86.65,34.7,1],[-86,34.5,1.1],[-86.05,33.9,1.1],[-85.35,34.5,1],[-84.65,34.75,1.05],[-84.9,34,1.4],[-84.4,33.3,1.4],[-84.05,33.55,1.5],[-84.1,34.1,1.9],[-83.3,34,2],[-85.1,35.25,null],[-84.9,35.3,.9],[-84.4,35.75,1.3],[-83.55,35.65,null],[-83.45,35.75,1.5],[-82.85,34.9,1],[-83.2,35.15,1],[-82.25,35.75,null],[-82,35,1.6],[-81.4,36,1.5],[-80.7,35.5,1.4],[-80.1,36.25,1.1],[-79.85,36.25,1.2],[-79.15,36.25,1],[-78.65,36,1],[-78.45,35.5,1.2],[-78.9,35,1.6],[-77.45,36,1.2],[-76.85,35.9,1],[-77.45,35.25,1.3],[-76.6,34.95,1.3],[-77.8,34.4,1.1],[-79.7,34.3,1.9],[-80.9,34.15,1.1],[-80.7,33.9,.9],[-81.75,33.8,1.4],[-81.75,33.4,1],[-80.9,33.05,1],[-79.85,33.05,.95],[-79.6,33,.95],[-81,32.1,1.2],[-81.45,31.25,1.4],[-80.35,35.5,1.4],[-81.05,35.25,1.5],[-79.85,35.25,1.1],[-81.5,35.5,1.7],[-82.5,35.25,1.2],[-83.7,36.5,null],[-82.5,36.6,null],[-81.2,36.95,null],[-83.2,37.3,1.3],[-82.5,37.5,.9],[-80.3,37.35,.9],[-79.85,37.3,.9],[-79.5,37.65,.85],[-78.25,37.25,1.2],[-77.25,37.55,null],[-76.7,36.7,1],[-76.35,37.1,1.7],[-87.85,36.85,1.5],[-88.5,37.1,null],[-87.25,36.95,1.2],[-86.55,36.8,1.9],[-87.15,36.05,1.7],[-86.6,36.35,.9],[-86.2,36.05,1],[-85.7,36.05,1.8],[-87.5,38.05,1.1],[-87,38.1,1.1],[-86.55,38.2,1.1],[-85.8,38.1,null],[-85.45,38.4,1.1],[-85,37.8,1.1],[-84.5,38.1,1.1],[-84.55,37.15,1.2],[-86.1,37.2,1.1],[-83.05,38,null],[-82.35,38.45,1.5],[-81.6,38.4,null],[-80.8,38.9,1.3],[-80.55,38,1],[-81.5,39.4,2],
[-87.4,39.6,1.2],[-87.5,38.85,1.7],[-86.55,39.8,1],[-86.05,39.95,1.8],[-85.8,39.7,1.2],[-86.05,38.95,1.2],[-86.9,39.1,1.1],[-86.55,40.55,1.1],[-85.6,40.8,1.2],[-85.1,41.2,1.2],[-84.05,40.8,1.1],[-84.6,39.7,1.3],[-84.75,38.95,1.7],[-84.15,39.2,1.8],[-84.15,39.45,null],[-83.7,39.95,1.3],[-83.2,39.7,1.2],[-82.85,40.3,null],[-82.5,40.05,1.6],[-81.3,39.95,1.4],[-82,41.55,null],[-81.3,41.7,1.2],[-81.5,40.95,1.1],[-81.05,41.05,1.2],[-80.45,42.05,1.7],[-80,42.15,1.6],[-80.35,41.4,1.6],[-80.45,41.05,1.7],[-80.1,40.8,2],[-80.55,40.3,1.6],[-79.6,40.45,null],[-79.5,40.3,1.4],[-78.9,40.55,null],[-78.65,41.65,1.1],[-78.55,41.05,1],[-77.95,40.8,1.3],[-78.3,40.55,1.9],[-80,39.95,1.9],[-79.15,39.8,1.1],[-79.6,39.1,1.1],[-77.95,39.45,.85],[-77.35,39.95,.85],[-77.45,39.35,2],[-78.65,38.45,1.1],[-78.45,38.1,1],[-77.35,38.45,null],[-76.75,38.45,1.9],[-76.05,38.45,1.3],[-75.15,38.85,1.9],[-76.4,38.95,null],[-77,40.45,1.2],[-76.4,40.2,1.3],[-75.8,40.1,1.4],[-75,40.15,1],[-75.9,41.3,1.2],[-75.45,41.45,1.1],[-75.2,40.7,1],[-74.6,40.55,1.2],[-74.35,39.55,null],[-75.8,39.3,null],[-75,39.45,1.3],[-74.1,40.7,1.4],[-74.1,41.55,null],[-73.4,41.8,null],[-72.8,41.2,null],[-73.15,40.95,null],[-72.1,41.45,null],[-71.4,41.55,null],[-70.75,41.35,null],[-70,42,null],[-71,42.4,null],[-70.65,43.4,null],[-71.25,43.9,null],[-71.6,44,null],[-72.25,43.7,null],[-72.45,42.4,null],[-71.75,42.3,null],[-73.75,41.45,2],[-73.65,41.2,2],[-71.4,43.5,1.7],[-71.4,43.05,1.8],[-72.55,42.4,1.6],[-71.95,41.65,1.7],[-71.25,41.9,1.5],[-72.2,42.95,.85],[-71.15,44.3,1],[-72.8,44.6,.85],[-73.9,44.45,.85],[-74.65,45.05,null],[-75.9,44.15,1.9],[-74.95,43.7,1.5],[-74.15,44,1.5],[-73.65,42.95,1.1],[-73.15,42.65,1.1],[-79.25,42.55,1.9],[-78.65,43.1,1.2],[-78.4,43.3,1.2],[-77.5,43.15,.85],[-77.1,43.25,1.5],[-76.4,43.25,1.2],[-76,43.1,.9],[-77.2,42.15,.95],[-76.6,42.4,.95],[-76.85,41.3,.9],[-77,41.8,.95],[-70.05,44.15,1.6],[-69.7,44.25,1.7],[-69.15,43.95,1.8],[-68.6,44.75,1],[-68.2,44.4,1.3],[-67.5,44.55,1.9],[-67,45,null],[-68.35,46.6,1.3],[-67.9,46.7,.95],
[-87.85,44.5,null],[-88.4,44.35,1.5],[-87.55,44.25,1.7],[-87.75,43.75,1.5],[-88.45,43.65,1.2],[-89.65,43.5,1.2],[-89.3,43.15,1],[-88.95,43.4,1.1],[-88.2,43,1.4],[-87.85,42.65,1.5],[-89.05,42.35,1.1],[-88.2,42.05,1.8],[-87.6,42.3,1.3],[-88.45,42.4,1.2],[-87,45.3,null],[-85.95,46.35,null],[-84.35,46.5,1],[-86.05,44.7,.9],[-85.7,44.2,1.6],[-84.85,44.35,1.3],[-86.15,44.25,null],[-86.3,43.75,null],[-86.2,43.15,null],[-86.05,42.65,null],[-85.35,43.15,1.3],[-84.45,42.8,.9],[-83.55,43.4,1.3],[-83.3,43.7,1.3],[-82.6,43.85,null],[-82.45,43,1.1],[-82.95,42.55,1.6],[-83.85,42.55,1.5],[-83.55,42.15,1.3],[-83.55,41.4,1.1],[-83.9,41.9,1.6],[-85.6,42.3,.95],[-85.95,41.9,1.8],[-87.4,41.8,null],[-87,41.65,1.2],[-86.4,41.55,1.2],
[-82.25,29.6,1.7],[-82.1,29.2,1.6],[-82.5,30.2,1.2],[-81.65,30.45,1.8],[-81,29.2,1.1],[-81.4,28.6,1.1],[-81.9,28.5,1.3],[-82.7,28.35,1.2],[-82.7,27.85,1.2],[-81.95,28.1,null],[-80.55,28.35,1.3],[-80.4,27.9,1.9],[-81.3,27.25,1.1],[-82.35,27.2,1.05],[-81.9,26.5,1],[-81.65,26.35,1.1],[-80.1,26.75,1.3],[-80.2,26.15,1.6],[-80.3,25.7,1.8]];
// map geometry in long/lat
const usOutline=[[-124.7,48.4],[-123.2,48.15],[-122.8,48.1],[-122.9,47.2],[-122.4,47.3],[-122.3,48.2],[-122.75,49],[-95.15,49],[-95.15,49.38],[-94.6,48.75],[-93.8,48.55],[-92.95,48.62],[-91.5,48.1],[-90.8,48.2],[-89.6,48],[-90.8,47.75],[-92.05,46.75],[-90.9,46.95],[-90.4,46.55],[-89.1,46.95],[-88.4,47.4],[-87.8,47.45],[-88.4,46.85],[-87.4,46.5],[-86.1,46.65],[-85,46.75],[-84.6,46.45],[-84.1,46.2],[-84,45.95],[-84.7,45.95],[-85.6,46.05],[-86.6,45.85],[-87.1,45.6],[-87.6,45.1],[-88,44.55],[-87.2,45.2],[-87.5,44.3],[-87.9,43],[-87.8,42.3],[-87.5,41.7],[-87,41.67],[-86.5,42.1],[-86.2,43],[-86.5,43.7],[-86.2,44.7],[-85.6,45],[-85,45.7],[-84.7,45.75],[-83.4,45.2],[-83.3,44.8],[-83.9,43.9],[-83.4,43.95],[-82.9,44.05],[-82.45,43],[-83.1,42.2],[-83.4,41.72],[-82.7,41.5],[-81.7,41.5],[-80.5,42],[-79,42.7],[-78.9,43],[-79.05,43.27],[-77.5,43.25],[-76.4,43.5],[-76.2,44.1],[-75,44.95],[-74.7,45],[-71.5,45],[-71.4,45.25],[-70.8,45.4],[-70.3,45.9],[-70,46.7],[-69.2,47.45],[-68.3,47.35],[-67.8,47.05],[-67.8,45.7],[-67.45,45.3],[-67,44.85],[-68.2,44.3],[-69,44.1],[-70,43.8],[-70.7,43.1],[-70.8,42.7],[-71,42.3],[-70.6,41.95],[-70,41.8],[-70,41.6],[-71,41.5],[-71.4,41.4],[-72.9,41.25],[-73.7,40.95],[-72.5,41],[-71.9,41.05],[-73.9,40.58],[-74,40.45],[-74.1,39.75],[-74.9,38.95],[-75.5,39.5],[-75.1,38.7],[-75.2,38],[-75.9,37.15],[-76,37.9],[-76.5,38.9],[-76.3,37.6],[-76,36.9],[-75.8,36.2],[-75.5,35.25],[-76.5,34.65],[-77.9,33.9],[-78.6,33.85],[-79.2,33.2],[-80.6,32.3],[-81.3,31.6],[-81.45,30.7],[-81.3,29.9],[-80.6,28.4],[-80,26.8],[-80.2,25.4],[-80.9,25.15],[-81.7,25.9],[-82.1,26.6],[-82.7,27.7],[-82.8,28.2],[-83.4,29.3],[-84,30.1],[-85,29.6],[-85.7,30.1],[-86.5,30.4],[-88,30.3],[-89.4,30.3],[-89.6,30.15],[-89.2,29.3],[-89.4,28.95],[-90.2,29.1],[-91.3,29.4],[-92.3,29.55],[-93.8,29.7],[-94.7,29.4],[-95.3,28.9],[-96.4,28.35],[-97.2,27.6],[-97.4,26.9],[-97.15,25.95],[-97.5,25.9],[-98.2,26.1],[-99.1,26.4],[-99.5,27.5],[-100.3,28.3],[-100.7,29.1],[-101.4,29.77],[-102.4,29.8],[-102.9,29.25],[-103.3,29],[-104.5,29.65],[-105,30.65],[-106.5,31.75],[-108.2,31.78],[-108.2,31.33],[-111.07,31.33],[-114.8,32.5],[-117.12,32.53],[-117.3,33.1],[-118.4,33.75],[-118.5,34.05],[-119.2,34.15],[-120.5,34.45],[-120.65,35.15],[-121.9,36.6],[-122.5,37.75],[-123,38],[-123.75,39],[-123.8,39.8],[-124.4,40.4],[-124.1,41],[-124.2,42],[-124.5,42.85],[-124.1,44],[-123.95,46.2],[-124.1,46.9]];
const stateLines=[
[[-124,46.25],[-123.2,46.15],[-122.8,45.65],[-122.2,45.6],[-121.2,45.65],[-119.3,45.93],[-119,46],[-116.92,46]],
[[-117.03,49],[-117.04,46.42],[-116.92,46],[-116.46,45.6],[-116.85,45],[-117.2,44.4],[-116.9,44.15],[-117.03,43.83],[-117.03,42]],
[[-124.2,42],[-111.05,42]],[[-120,42],[-120,39],[-114.63,35],[-114.15,34.27],[-114.45,34],[-114.72,33.4],[-114.52,33],[-114.72,32.72]],
[[-114.04,42],[-114.04,36.2],[-114.75,36.1],[-114.63,35]],[[-114.04,37],[-94.62,37]],[[-103,37],[-103,36.5],[-103.06,32],[-106.62,32],[-106.5,31.75]],
[[-103,36.5],[-100,36.5],[-100,34.56],[-99.2,34.3],[-98.1,34.1],[-97.2,33.8],[-96.5,33.8],[-95.2,33.9],[-94.48,33.64]],
[[-109.05,31.33],[-109.05,41]],[[-111.05,45],[-111.05,41],[-102.05,41],[-102.05,37]],[[-111.05,45],[-104.05,45]],[[-104.05,49],[-104.05,41]],
[[-102.05,40],[-95.3,40]],[[-104.05,43],[-98.5,43],[-98,42.77],[-97.2,42.85],[-96.45,42.5]],[[-104.05,45.94],[-96.56,45.94]],
[[-116.05,49],[-116.05,48],[-115.7,47.45],[-114.7,46.7],[-114.35,46.65],[-114.5,45.55],[-113.9,45.65],[-113.45,44.95],[-113,44.45],[-111.5,44.55],[-111.05,44.5]],
[[-97.23,49],[-97.1,47.9],[-96.85,47],[-96.56,45.94],[-96.85,45.6],[-96.45,45.3],[-96.45,42.5],[-96.1,41.7],[-95.85,40.7],[-95.3,40],[-94.62,39.1],[-94.62,36.5],[-94.43,35.4],[-94.48,33.64],[-94.04,33.55],[-94.04,32],[-93.55,31.2],[-93.8,29.7]],
[[-94.04,33],[-91.15,33]],[[-94.62,36.5],[-90.15,36.5],[-90.37,36],[-89.7,36],[-90.3,35],[-90.6,34.5],[-91.15,33],[-91,32.4],[-91.6,31],[-89.75,31],[-89.6,30.2]],
[[-96.45,43.5],[-91.22,43.5]],[[-95.77,40.58],[-91.73,40.6],[-91.42,40.38]],
[[-92.05,46.7],[-92.3,46.1],[-92.8,45.6],[-92.75,44.75],[-91.22,43.5],[-91.1,42.7],[-90.64,42.5],[-90.15,41.8],[-91.05,41.2],[-91.42,40.38],[-91.5,40],[-90.7,39],[-90.15,38.8],[-90.2,38.4],[-89.5,37.3],[-89.15,37],[-89.5,36.5],[-89.7,36]],
[[-90.64,42.5],[-87.8,42.5]],[[-90.4,46.55],[-88.1,45.9],[-87.8,45.35],[-87.6,45.1]],[[-87.53,41.7],[-87.53,39.35],[-87.6,38.7],[-88,37.8]],
[[-84.8,41.76],[-84.8,39.1]],[[-87,41.76],[-84.8,41.76],[-83.45,41.73]],[[-80.52,42],[-80.52,39.72]],
[[-79.76,42.25],[-79.76,42],[-75.35,42],[-75.05,41.6],[-74.7,41.36],[-75.1,40.9],[-75.1,40.4],[-74.75,40.2],[-75.4,39.8]],[[-80.52,39.72],[-75.79,39.72],[-75.4,39.8]],[[-75.79,39.72],[-75.7,38.46],[-75.05,38.45]],
[[-80.52,40.64],[-80.85,39.7],[-81.7,39.2],[-82.2,38.6],[-82.6,38.4],[-83.7,38.65],[-84.8,39.1],[-85.4,38.7],[-86.3,38],[-87.5,37.9],[-88,37.8],[-88.5,37.1],[-89.15,37]],
[[-89.5,36.5],[-88.05,36.5],[-88.05,36.68],[-83.68,36.6]],[[-82.6,38.4],[-82.6,37.5],[-81.97,37.54],[-83.68,36.6]],[[-81.97,37.54],[-81.2,37.25],[-80.3,37.55],[-79.7,38.5],[-78.9,38.8],[-78.35,39.4],[-77.83,39.13]],
[[-79.48,39.72],[-79.48,39.2],[-78.4,39.6],[-77.75,39.32],[-77.05,38.8],[-77.3,38.4],[-76.3,38]],[[-83.68,36.6],[-81.68,36.59],[-75.87,36.55]],
[[-81.68,36.59],[-82,36.1],[-82.9,35.95],[-84.32,35]],[[-90.3,35],[-83.11,35]],[[-83.11,35],[-82.3,35.2],[-81.05,35.15],[-80.8,34.82],[-79.67,34.8],[-78.55,33.86]],
[[-83.11,35],[-83.35,34.7],[-82.7,34],[-81.9,33.4],[-81.4,32.6],[-81.1,32.1],[-80.9,32.03]],[[-85,30.7],[-82.2,30.57],[-82.05,30.36],[-81.45,30.7]],
[[-87.45,30.3],[-87.6,31],[-85.05,31]],[[-85.6,35],[-85.18,32.87],[-85,32.3],[-85.05,31],[-84.87,30.7]],[[-88.2,35],[-88.1,34.9],[-88.45,31.9],[-88.4,30.3]],
[[-73.35,45],[-73.3,43.6],[-73.25,42.75],[-73.5,42.05],[-73.5,41.3],[-73.65,41]],[[-73.25,42.75],[-72.46,42.73],[-71.3,42.7],[-70.85,42.87]],[[-71.5,45],[-72.05,44.1],[-72.46,42.73]],
[[-71.05,45.3],[-70.98,43.4],[-70.7,43.07]],[[-73.5,42.05],[-71.38,42.02],[-71.2,41.5]],[[-71.8,42.02],[-71.85,41.32]],[[-74.7,41.36],[-73.9,41]]];
// tick labels
const xTicksAB=[40,60,80,100], relTicks=[0,2,4,6], relMinor=[1,3,5,7], abMinorX=[50,70,90,110], absTicks=[0,2,4], absMinor=[1,3,5];
const lonTicks=[-120,-100,-80], lonMinor=[-130,-110,-90,-70], latTicks=[25,30,35,40,45,50], latMinor=[27.5,32.5,37.5,42.5,47.5];
const longLegend=[-80,-100,-120,-140], pctLegend=[0,.5,1,1.5,2];

const svg=d3.select("#c");
const TICK="#4d4d4d", TK="#333";
function panel(o){
  const g=svg.append("g");
  g.append("rect").attr("x",o.l).attr("y",o.t).attr("width",o.r-o.l).attr("height",o.b-o.t).attr("fill","#ebebeb");
  const grid=g.append("g").attr("stroke","#fff").attr("fill","none");
  const vl=(arr,w)=>grid.selectAll(null).data(arr).enter().append("line").attr("x1",d=>o.x(d)).attr("x2",d=>o.x(d)).attr("y1",o.t).attr("y2",o.b).attr("stroke-width",w);
  const hl=(arr,w)=>grid.selectAll(null).data(arr).enter().append("line").attr("y1",d=>o.y(d)).attr("y2",d=>o.y(d)).attr("x1",o.l).attr("x2",o.r).attr("stroke-width",w);
  vl(o.xMinor.filter(d=>o.x(d)>o.l&&o.x(d)<o.r),1.3);hl(o.yMinor.filter(d=>o.y(d)>o.t&&o.y(d)<o.b),1.3);vl(o.xTicks,2.7);hl(o.yTicks,2.7);
  const ax=g.append("g").attr("transform",`translate(0,${o.b})`).call(d3.axisBottom(o.x).tickValues(o.xTicks).tickSize(7).tickPadding(6).tickFormat(o.xf||(d=>d)));
  const ay=g.append("g").attr("transform",`translate(${o.l},0)`).call(d3.axisLeft(o.y).tickValues(o.yTicks).tickSize(7).tickPadding(7).tickFormat(o.yf||(d=>d)));
  [ax,ay].forEach(a=>{a.select(".domain").remove();a.selectAll("line").attr("stroke",TK).attr("stroke-width",2.4);a.selectAll("text").attr("fill",TICK).attr("font-size",23.4).attr("font-family",'"Liberation Sans"');});
  ax.selectAll("text").attr("dy","0.8em");
  g.append("text").attr("x",o.tx).attr("y",o.ty).attr("font-size",35.4).attr("fill","#000").text(o.title);
  g.append("text").attr("x",o.xlx).attr("y",o.xly).attr("text-anchor","middle").attr("font-size",29.4).text(o.xlab);
  g.append("text").attr("transform",`translate(${o.ylx},${o.yly}) rotate(-90)`).attr("text-anchor","middle").attr("font-size",29.4).text(o.ylab);
  const id="clip"+o.l+o.t;
  g.append("clipPath").attr("id",id).append("rect").attr("x",o.l).attr("y",o.t).attr("width",o.r-o.l).attr("height",o.b-o.t);
  return g.append("g").attr("clip-path",`url(#${id})`);
}
// Panel 1
const x1=d3.scaleLinear().domain([40,100]).range([146,906]);
const y1=d3.scaleLinear().domain([0,6]).range([421,127]);
const longColor=d3.scaleLinear().domain([-157,-67]).range(["#132B43","#56B1F7"]).interpolate(d3.interpolateLab);
const p1=panel({l:88,r:1048,t:52,b:423,x:x1,y:y1,xTicks:xTicksAB,xMinor:abMinorX,yTicks:relTicks,yMinor:relMinor,yf:d=>d+"%",title:TITLE_A,tx:53,ty:36,xlab:XLABEL,xlx:568,xly:487,ylab:"relative uncertainty",ylx:32,yly:237});
p1.selectAll(null).data([...relDark,...relEdge,...relBlob,...relDarkTop,...relBlob2,...relDarkTop2]).enter().append("circle").attr("cx",d=>x1(d[0])).attr("cy",d=>y1(d[1])).attr("r",7.2).attr("fill",d=>longColor(d[2]));
svg.append("text").attr("x",x1(50)).attr("y",y1(5)).attr("dy","0.38em").attr("text-anchor","middle").attr("font-size",29.5).text("mean 1.512%");
svg.append("text").attr("x",x1(80)).attr("y",y1(5)).attr("dy","0.38em").attr("text-anchor","middle").attr("font-size",29.5).attr("fill","#ff0000").text("median 1.427%");
// Panel 2
const x2=d3.scaleLinear().domain([40,100]).range([137,1050]);
const y2=d3.scaleLinear().domain([0,4]).range([930,681]);
const p2=panel({l:68,r:1194,t:565,b:936,x:x2,y:y2,xTicks:xTicksAB,xMinor:abMinorX,yTicks:absTicks,yMinor:absMinor,title:TITLE_A,tx:129,ty:548,xlab:XLABEL,xlx:644,xly:999,ylab:"absolute uncertainty",ylx:32,yly:750});
const absAll=[...absEdge,...absRows.flatMap(r=>r[1].map(v=>[v,r[0]]))];
p2.selectAll(null).data(absAll).enter().append("circle").attr("cx",d=>x2(d[0])).attr("cy",d=>y2(d[1])).attr("r",7.2).attr("fill","#000");
svg.append("text").attr("x",x2(50)).attr("y",y2(3.5)).attr("dy","0.38em").attr("text-anchor","middle").attr("font-size",29.5).text("mean 1.075");
svg.append("text").attr("x",x2(80)).attr("y",y2(3.5)).attr("dy","0.38em").attr("text-anchor","middle").attr("font-size",29.5).attr("fill","#ff0000").text("median 1.000");
// Panel 3
const x3=d3.scaleLinear().domain([-120,-80]).range([230,788]);
const y3=d3.scaleLinear().domain([25,50]).range([1432,1094]);
const p3=panel({l:80,r:1042,t:1078,b:1447,x:x3,y:y3,xTicks:lonTicks,xMinor:lonMinor,yTicks:latTicks,yMinor:latMinor,title:TITLE_C,tx:367,ty:1060,xlab:"long",xlx:561,xly:1512,ylab:"lat",ylx:30,yly:1262});
const ln=d3.line().x(d=>x3(d[0])).y(d=>y3(d[1]));
p3.append("path").attr("d",ln(usOutline)+"Z").attr("fill","#1a1a1a").attr("stroke","#fff").attr("stroke-width",2.6).attr("stroke-linejoin","round");
p3.selectAll(null).data(stateLines).enter().append("path").attr("d",ln).attr("fill","none").attr("stroke","#fff").attr("stroke-width",2.6).attr("stroke-linejoin","round");
const pctColor=d3.scaleLinear().domain([0,2]).range(["#ff0000","#0000ff"]).interpolate(d3.interpolateLab);
p3.selectAll(null).data([...stationsGreyExtra,...stationsExtra,...stations]).enter().append("circle").attr("cx",d=>x3(d[0])).attr("cy",d=>y3(d[1])).attr("r",5.5).attr("fill",d=>d[2]==null?"#7f7f7f":pctColor(d[2]));
// Legends
const defs=svg.append("defs");
function gradient(id,color,a,b){const g=defs.append("linearGradient").attr("id",id).attr("x1",0).attr("x2",0).attr("y1",0).attr("y2",1);
  d3.range(0,1.0001,.05).forEach(t=>g.append("stop").attr("offset",t).attr("stop-color",color(a+(b-a)*t)));}
const yL1=d3.scaleLinear().domain([-80,-140]).range([172,326]);
gradient("g1",longColor,-67,-157);
svg.append("text").attr("x",1083).attr("y",128).attr("font-size",29.5).text("LONG");
svg.append("rect").attr("x",1083).attr("y",139).attr("width",46).attr("height",231).attr("fill","url(#g1)");
function legTicks(vals,y,x0,x1,tx,fmt){
  svg.selectAll(null).data(vals).enter().append("path").attr("d",d=>`M${x0},${y(d)}h9M${x1-9},${y(d)}h9`).attr("stroke","#fff").attr("stroke-width",1).attr("fill","none");
  svg.selectAll(null).data(vals).enter().append("text").attr("x",tx).attr("y",d=>y(d)).attr("dy","0.38em").attr("font-size",23.6).text(fmt);
}
legTicks(longLegend,yL1,1083,1129,1140,d=>d);
const yL2=d3.scaleLinear().domain([0,2]).range([1377.7,1159]);
gradient("g2",pctColor,2.05,-.05);
svg.append("rect").attr("x",1076).attr("y",1153).attr("width",46).attr("height",230).attr("fill","url(#g2)");
legTicks(pctLegend,yL2,1076,1122,1134,d=>d.toFixed(1)+"%");
</script></body></html>
